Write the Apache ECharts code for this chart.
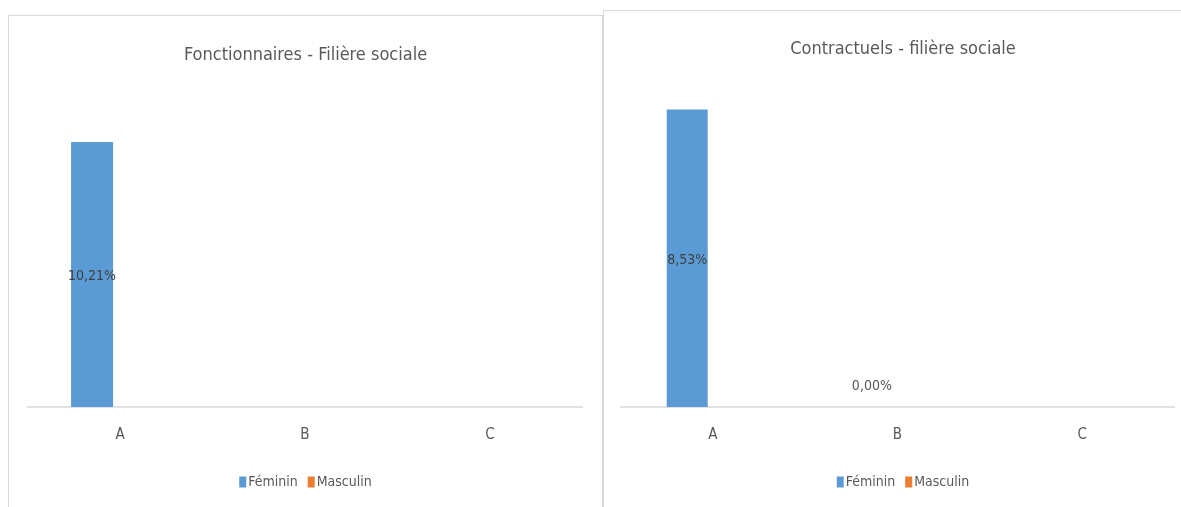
<!DOCTYPE html>
<html>
<head>
<meta charset="utf-8">
<script src="https://cdn.jsdelivr.net/npm/echarts@6/dist/echarts.min.js"></script>
<style>
  html, body { margin: 0; padding: 0; background: #fff; width: 1181px; height: 507px; overflow: hidden; }
  .panel { position: absolute; box-sizing: border-box; border: 1px solid #D9D9D9; background: #fff; }
  #left { left: 8px; top: 15px; width: 595px; height: 510px; }
  #right { left: 603px; top: 10px; width: 600px; height: 515px; }
</style>
</head>
<body>
<div id="left" class="panel"></div>
<div id="right" class="panel"></div>
<script>
// Category labels and values (percent)
const categories = ['A', 'B', 'C'];
const seriesNames = ['Féminin', 'Masculin'];
const fonctFeminin = [10.21, null, null];
const fonctMasculin = [null, null, null];
const contrFeminin = [8.53, 0, null];
const contrMasculin = [null, null, null];

const FONT = "'Liberation Sans Narrow', 'DejaVu Sans Condensed', 'Liberation Sans', sans-serif";
const BLUE = '#5B9BD5';
const ORANGE = '#ED7D31';
const TEXT = '#595959';

function fmt(v) {
  return v.toFixed(2).replace('.', ',') + '%';
}

// Values > 0 get a centred label; a zero value gets its label above the baseline
function toData(values) {
  return values.map(function (v) {
    if (v === null) return null;
    if (v === 0) {
      return { value: v, label: { show: true, position: 'top', distance: 14, color: TEXT } };
    }
    return { value: v, label: { show: true, position: 'inside', offset: [0, 2], color: '#404040' } };
  });
}

function build(el, cfg) {
  const chart = echarts.init(el, null, { renderer: 'canvas' });
  chart.setOption({
    animation: false,
    textStyle: { fontFamily: FONT },
    title: {
      text: cfg.title,
      left: 'center',
      top: cfg.titleTop,
      textStyle: { fontFamily: FONT, fontSize: 18, fontWeight: 'normal', color: TEXT }
    },
    legend: {
      data: seriesNames,
      left: 'center',
      top: cfg.legendTop,
      icon: 'rect',
      itemWidth: 7,
      itemHeight: 11,
      itemGap: 10,
      textStyle: { fontFamily: FONT, fontSize: 14, color: TEXT, padding: [0, 0, 0, -3] }
    },
    grid: { left: cfg.gridLeft, top: cfg.gridTop, width: cfg.gridWidth, height: cfg.gridHeight },
    xAxis: {
      type: 'category',
      data: categories,
      axisLine: { lineStyle: { color: '#D9D9D9', width: 1.5 } },
      axisTick: { show: false },
      axisLabel: { color: TEXT, fontSize: 15, fontFamily: FONT, margin: 21 }
    },
    yAxis: {
      type: 'value',
      min: 0,
      max: cfg.yMax,
      show: false,
      splitLine: { show: false }
    },
    series: [
      {
        name: seriesNames[0],
        type: 'bar',
        barWidth: cfg.barWidth,
        barGap: cfg.barGap,
        itemStyle: { color: BLUE },
        label: { fontFamily: FONT, fontSize: 14, formatter: function (p) { return fmt(p.value); } },
        data: toData(cfg.fem)
      },
      {
        name: seriesNames[1],
        type: 'bar',
        barWidth: cfg.barWidth,
        barGap: cfg.barGap,
        itemStyle: { color: ORANGE },
        label: { fontFamily: FONT, fontSize: 14, formatter: function (p) { return fmt(p.value); } },
        data: toData(cfg.masc)
      }
    ]
  });
}

build(document.getElementById('left'), {
  title: 'Fonctionnaires - Filière sociale',
  titleTop: 25,
  legendTop: 454,
  gridLeft: 18.5, gridTop: 79.5, gridWidth: 555, gridHeight: 311.5,
  yMax: 12,
  barWidth: 42, barGap: '33%',
  fem: fonctFeminin, masc: fonctMasculin
});

build(document.getElementById('right'), {
  title: 'Contractuels - filière sociale',
  titleTop: 24,
  legendTop: 459,
  gridLeft: 16.5, gridTop: 82, gridWidth: 554, gridHeight: 314,
  yMax: 9,
  barWidth: 41, barGap: '25%',
  fem: contrFeminin, masc: contrMasculin
});
</script>
</body>
</html>
